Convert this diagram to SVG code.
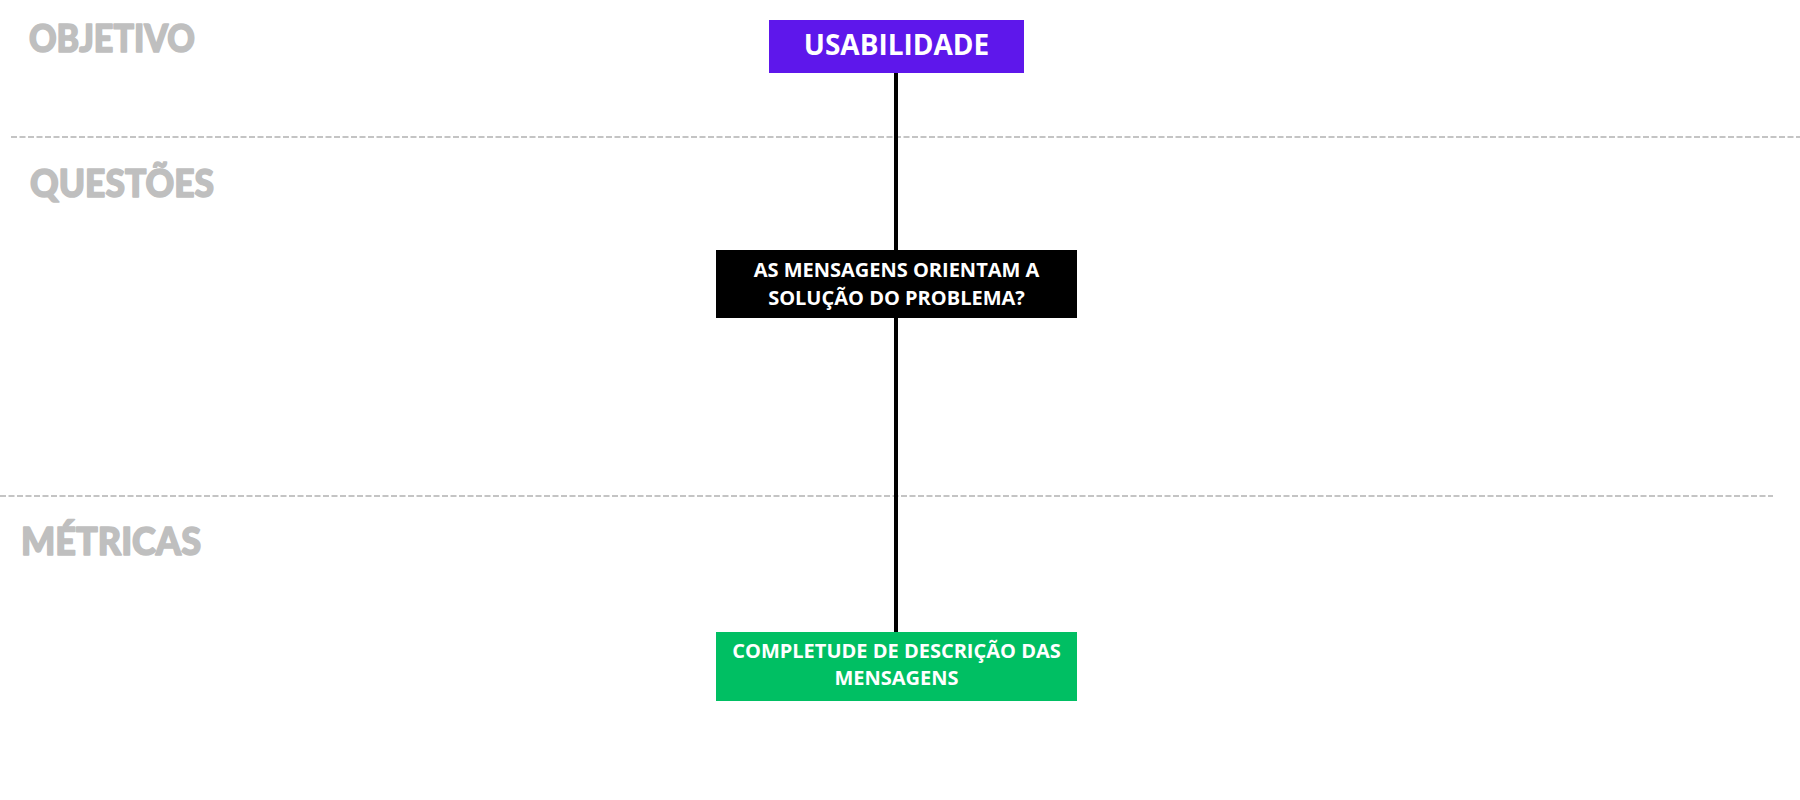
<svg xmlns="http://www.w3.org/2000/svg" width="1800" height="800" viewBox="0 0 1800 800">
<style>
.sec{font-family:"Lato","Liberation Sans",sans-serif;font-weight:900;font-size:38px;fill:#bfbfbf;stroke:#bfbfbf;stroke-width:1.6;stroke-linejoin:round}
.lbl{font-family:"Open Sans","Liberation Sans",sans-serif;font-weight:700;fill:#ffffff;text-anchor:middle}
.div{stroke:#c4c4c4;stroke-width:2;stroke-dasharray:6 2.5;fill:none}
</style>
<rect width="1800" height="800" fill="#ffffff"/>
<g id="sections">
<line class="div" x1="11" y1="137" x2="1800" y2="137"/>
<line class="div" x1="0" y1="496" x2="1773" y2="496"/>
<text class="sec" x="29" y="52" textLength="166" lengthAdjust="spacingAndGlyphs">OBJETIVO</text>
<text class="sec" x="30" y="197" textLength="184" lengthAdjust="spacingAndGlyphs">QUESTÕES</text>
<text class="sec" x="21" y="555" textLength="180" lengthAdjust="spacingAndGlyphs">MÉTRICAS</text>
</g>
<g id="connectors">
<line x1="896" y1="73" x2="896" y2="632" stroke="#000000" stroke-width="4"/>
</g>
<g id="objetivo">
<rect x="769" y="20" width="255" height="53" fill="#5e17eb"/>
<text class="lbl" x="896.5" y="55" font-size="28">USABILIDADE</text>
</g>
<g id="questao">
<rect x="716" y="250" width="361" height="68" fill="#000000"/>
<text class="lbl" x="896.5" y="277" font-size="20">AS MENSAGENS ORIENTAM A</text>
<text class="lbl" x="896.5" y="305" font-size="20">SOLUÇÃO DO PROBLEMA?</text>
</g>
<g id="metrica">
<rect x="716" y="632" width="361" height="69" fill="#00bf63"/>
<text class="lbl" x="896.5" y="658" font-size="20">COMPLETUDE DE DESCRIÇÃO DAS</text>
<text class="lbl" x="896.5" y="685" font-size="20">MENSAGENS</text>
</g>
</svg>
